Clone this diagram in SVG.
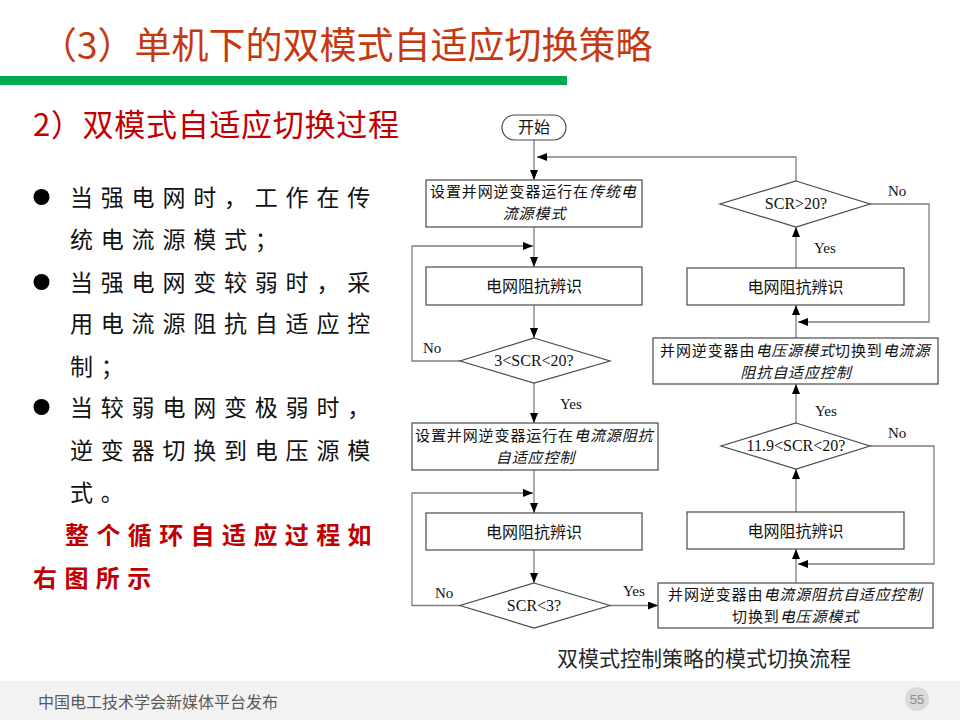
<svg xmlns="http://www.w3.org/2000/svg" width="960" height="720" viewBox="0 0 960 720">
<defs>
<marker id="ah" markerUnits="userSpaceOnUse" markerWidth="11" markerHeight="9" refX="10" refY="4" orient="auto">
<path d="M0,0 L10,4 L0,8 z" fill="#000"/>
</marker>
<style>
.cjk{font-family:"Noto Sans CJK SC","Noto Sans",sans-serif;}
.box{fill:#fff;stroke:#4a4a4a;stroke-width:1.2;}
.bt{font-family:"Noto Sans CJK SC",sans-serif;font-size:16px;fill:#111;text-anchor:middle;}
.bs{font-family:"Noto Sans CJK SC",sans-serif;font-size:15px;letter-spacing:0.9px;fill:#111;}
.bm{font-family:"Noto Sans CJK SC",sans-serif;font-size:15px;letter-spacing:0.9px;fill:#111;text-anchor:middle;}
.it{font-style:italic;}
.dt{font-family:"Liberation Serif","Times New Roman",serif;font-size:16px;fill:#111;text-anchor:middle;}
.lb{font-family:"Liberation Serif","Times New Roman",serif;font-size:15px;fill:#111;}
.cn{fill:none;stroke:#7f7f7f;stroke-width:1.3;}
.body{font-family:"Noto Sans CJK SC",sans-serif;font-size:23px;letter-spacing:7.8px;fill:#111;}
.red{font-family:"Noto Sans CJK SC",sans-serif;font-size:24px;letter-spacing:7.4px;fill:#C00000;font-weight:bold;}
</style>
</defs>
<rect x="0" y="0" width="960" height="720" fill="#fff"/>

<g id="header">
<text class="cjk" x="40" y="59" font-size="37" fill="#C43A10">（3）单机下的双模式自适应切换策略</text>
<rect x="0" y="76" width="567" height="9" fill="#00A84F"/>
<text class="cjk" x="33" y="136" font-size="31" letter-spacing="0.7" fill="#C00000">2）双模式自适应切换过程</text>
</g>

<g id="bullets">
<circle cx="41.5" cy="197" r="8" fill="#000"/>
<circle cx="41.5" cy="282" r="8" fill="#000"/>
<circle cx="41.5" cy="407" r="8" fill="#000"/>
<text class="body" x="70" y="206">当强电网时，工作在传</text>
<text class="body" x="70" y="248">统电流源模式；</text>
<text class="body" x="70" y="291">当强电网变较弱时，采</text>
<text class="body" x="70" y="332">用电流源阻抗自适应控</text>
<text class="body" x="70" y="375">制；</text>
<text class="body" x="70" y="416">当较弱电网变极弱时，</text>
<text class="body" x="70" y="459">逆变器切换到电压源模</text>
<text class="body" x="70" y="501">式。</text>
<text class="red" x="65" y="544">整个循环自适应过程如</text>
<text class="red" x="33" y="587">右图所示</text>
</g>

<g id="connectors">
<line class="cn" x1="534" y1="140" x2="534" y2="180" marker-end="url(#ah)"/>
<line class="cn" x1="534" y1="227" x2="534" y2="267" marker-end="url(#ah)"/>
<polyline class="cn" points="460,361 412,361 412,246 533,246" marker-end="url(#ah)"/>
<line class="cn" x1="534" y1="305" x2="534" y2="338" marker-end="url(#ah)"/>
<line class="cn" x1="534" y1="383" x2="534" y2="423" marker-end="url(#ah)"/>
<line class="cn" x1="534" y1="470" x2="534" y2="513" marker-end="url(#ah)"/>
<polyline class="cn" points="460,605.5 412,605.5 412,493 533,493" marker-end="url(#ah)"/>
<line class="cn" x1="534" y1="550" x2="534" y2="583" marker-end="url(#ah)"/>
<line class="cn" x1="610" y1="605.5" x2="658" y2="605.5" marker-end="url(#ah)"/>
<line class="cn" x1="796" y1="583" x2="796" y2="549" marker-end="url(#ah)"/>
<polyline class="cn" points="870,446 934,446 934,564 798,564" marker-end="url(#ah)"/>
<line class="cn" x1="796" y1="512" x2="796" y2="469" marker-end="url(#ah)"/>
<line class="cn" x1="796" y1="423" x2="796" y2="384" marker-end="url(#ah)"/>
<line class="cn" x1="796" y1="338" x2="796" y2="305" marker-end="url(#ah)"/>
<polyline class="cn" points="870,204 929,204 929,322 798,322" marker-end="url(#ah)"/>
<line class="cn" x1="796" y1="268" x2="796" y2="227" marker-end="url(#ah)"/>
<polyline class="cn" points="796,181 796,157 537,157" marker-end="url(#ah)"/>
<text class="lb" x="423" y="353">No</text>
<text class="lb" x="560" y="409">Yes</text>
<text class="lb" x="435" y="598">No</text>
<text class="lb" x="623" y="596">Yes</text>
<text class="lb" x="815" y="416">Yes</text>
<text class="lb" x="888" y="438">No</text>
<text class="lb" x="888" y="196">No</text>
<text class="lb" x="814" y="253">Yes</text>
</g>

<g id="start">
<rect class="box" x="502" y="115" width="64" height="25" rx="12.5"/>
<text class="bt" x="534" y="133" font-size="15">开始</text>
</g>

<g id="box1">
<rect class="box" x="426" y="180" width="216" height="47"/>
<text class="bs" x="430" y="196.5">设置并网逆变器运行在</text>
<text class="bs it" x="589" y="196.5">传统电</text>
<text class="bm it" x="534.5" y="218.5">流源模式</text>
</g>

<g id="box2">
<rect class="box" x="426" y="267" width="216" height="38"/>
<text class="bt" x="534" y="292">电网阻抗辨识</text>
</g>

<g id="dec1">
<polygon class="box" points="534,338 610,361 534,383 460,361"/>
<text class="dt" x="534" y="366">3&lt;SCR&lt;20?</text>
</g>

<g id="box3">
<rect class="box" x="412" y="423" width="246" height="47"/>
<text class="bs" x="415" y="441">设置并网逆变器运行在</text>
<text class="bs it" x="574" y="441">电流源阻抗</text>
<text class="bm it" x="535.5" y="463">自适应控制</text>
</g>

<g id="box4">
<rect class="box" x="426" y="513" width="216" height="37"/>
<text class="bt" x="534" y="537.5">电网阻抗辨识</text>
</g>

<g id="dec3">
<polygon class="box" points="534,583 610,605.5 534,628 460,605.5"/>
<text class="dt" x="534" y="611">SCR&lt;3?</text>
</g>

<g id="box5">
<rect class="box" x="658" y="583" width="275" height="45"/>
<text class="bs" x="668" y="600">并网逆变器由</text>
<text class="bs it" x="763.4" y="600">电流源阻抗自适应控制</text>
<text class="bs" x="732" y="622">切换到</text>
<text class="bs it" x="779.7" y="622">电压源模式</text>
</g>

<g id="box6">
<rect class="box" x="687" y="512" width="217" height="37"/>
<text class="bt" x="795.5" y="536.5">电网阻抗辨识</text>
</g>

<g id="dec2">
<polygon class="box" points="796,423 870,446 796,469 721,446"/>
<text class="dt" x="796" y="451">11.9&lt;SCR&lt;20?</text>
</g>

<g id="box7">
<rect class="box" x="653" y="338" width="285" height="46"/>
<text class="bs" x="660" y="355.5">并网逆变器由</text>
<text class="bs it" x="755.4" y="355.5">电压源模式</text>
<text class="bs" x="835" y="355.5">切换到</text>
<text class="bs it" x="882.7" y="355.5">电流源</text>
<text class="bm it" x="796" y="377.5">阻抗自适应控制</text>
</g>

<g id="box8">
<rect class="box" x="687" y="268" width="217" height="37"/>
<text class="bt" x="795.5" y="292.5">电网阻抗辨识</text>
</g>

<g id="dec4">
<polygon class="box" points="796,181 870,204 796,227 720,204"/>
<text class="dt" x="796" y="209">SCR&gt;20?</text>
</g>

<g id="caption">
<text class="cjk" x="557" y="666" font-size="21" fill="#262626">双模式控制策略的模式切换流程</text>
</g>

<g id="footer">
<rect x="0" y="681" width="960" height="39" fill="#F2F2F2"/>
<text class="cjk" x="38" y="708" font-size="16" fill="#595959">中国电工技术学会新媒体平台发布</text>
<circle cx="917" cy="699" r="12" fill="#DADADA"/>
<text x="917" y="704" font-family="Liberation Sans,Arial,sans-serif" font-size="13" fill="#8c8c8c" text-anchor="middle">55</text>
</g>
</svg>
